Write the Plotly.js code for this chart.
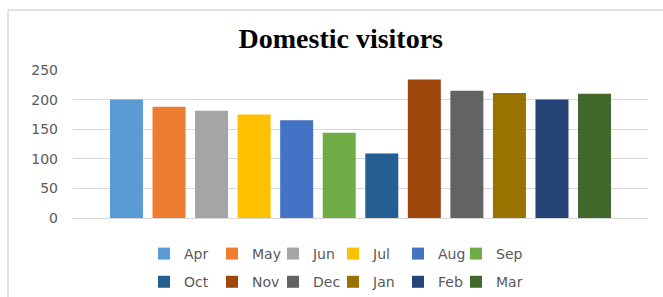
<!DOCTYPE html>
<html>
<head>
<meta charset="utf-8">
<script src="https://cdn.plot.ly/plotly-3.0.1.min.js"></script>
<style>html,body{margin:0;padding:0;background:#fff;}#chart{width:663px;height:297px;}</style>
</head>
<body>
<div id="chart"></div>
<script>
const months = ["Apr","May","Jun","Jul","Aug","Sep","Oct","Nov","Dec","Jan","Feb","Mar"];
const visitors = [200,188,181,175,165,144,109,234,215,211,200,210];
const category = [""];
const barColors = ["#5B9BD5","#ED7D31","#A5A5A5","#FFC000","#4472C4","#70AD47","#255E91","#9E480E","#636363","#997300","#264478","#43682B"];

// legend columns: each column holds two months (one from each row)
const legendNames = ["legend","legend2","legend3","legend4","legend5","legend6"];
const legendColX = [0.1235, 0.2417, 0.3478, 0.4522, 0.5652, 0.6661];

const traces = months.map((m, i) => ({
  type: "bar",
  name: m,
  x: category,
  y: [visitors[i]],
  marker: {color: barColors[i], line: {width: 0}},
  legend: legendNames[i % 6],
  legendgroup: "g" + i,
  hoverinfo: "y+name"
}));

const legendFont = {family: "DejaVu Sans", size: 14, color: "#595959"};
const layout = {
  width: 663, height: 297,
  margin: {l: 73, r: 15, t: 70, b: 79, autoexpand: false},
  paper_bgcolor: "#ffffff",
  plot_bgcolor: "#ffffff",
  barmode: "group",
  bargap: 0.112,
  bargroupgap: 0.224,
  title: {
    text: "<b>Domestic visitors</b>",
    font: {family: "Liberation Serif", size: 28, color: "#000000"},
    xref: "container", x: 0.514, xanchor: "center",
    yref: "container", y: 0.872, yanchor: "middle"
  },
  xaxis: {showticklabels: false, showgrid: false, zeroline: false, showline: false, fixedrange: true},
  yaxis: {
    range: [0, 250], tickvals: [0, 50, 100, 150, 200, 250],
    showgrid: true, gridcolor: "#d9d9d9", gridwidth: 1,
    zeroline: true, zerolinecolor: "#d9d9d9", zerolinewidth: 1,
    showline: false, ticks: "", ticklabelstandoff: 14,
    tickfont: {family: "DejaVu Sans", size: 14, color: "#595959"}
  },
  showlegend: true,
  shapes: [
    {type: "line", xref: "paper", yref: "paper", x0: -0.113, x1: -0.113, y0: -0.6, y1: 1.405, line: {color: "#d9d9d9", width: 1.5}},
    {type: "line", xref: "paper", yref: "paper", x0: -0.113, x1: 1.05, y0: 1.405, y1: 1.405, line: {color: "#d9d9d9", width: 1.5}}
  ]
};
legendNames.forEach((ln, k) => {
  layout[ln] = {
    orientation: "v", x: legendColX[k], xanchor: "left", y: -0.135, yanchor: "top",
    font: legendFont, bgcolor: "rgba(0,0,0,0)", tracegroupgap: 7, traceorder: "grouped"
  };
});

Plotly.newPlot("chart", traces, layout, {displayModeBar: false, responsive: false});
</script>
</body>
</html>
